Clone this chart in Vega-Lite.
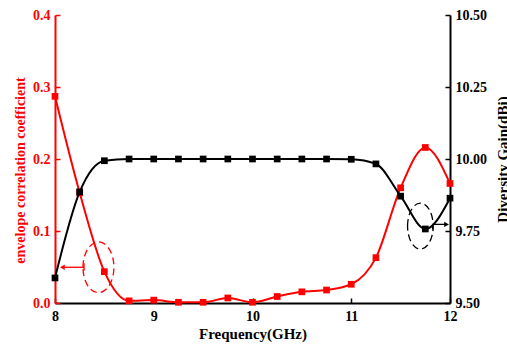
{
  "$schema": "https://vega.github.io/schema/vega-lite/v6.json",
  "width": 395,
  "height": 288,
  "autosize": {"type": "none"},
  "padding": {"left": 55, "top": 15, "right": 57, "bottom": 45},
  "background": "white",
  "config": {
    "view": {"stroke": null},
    "font": "Liberation Serif",
    "axis": {"grid": false, "labelFont": "Liberation Serif", "titleFont": "Liberation Serif", "labelFontWeight": "bold", "titleFontWeight": "bold"}
  },
  "datasets": {
    "ecc": [
      {"x": 8, "y": 0.287}, {"x": 8.25, "y": 0.153}, {"x": 8.5, "y": 0.0435}, {"x": 8.75, "y": 0.003},
      {"x": 9, "y": 0.004}, {"x": 9.25, "y": 0.001}, {"x": 9.5, "y": 0.001}, {"x": 9.75, "y": 0.007},
      {"x": 10, "y": 0.001}, {"x": 10.25, "y": 0.009}, {"x": 10.5, "y": 0.0155}, {"x": 10.75, "y": 0.018},
      {"x": 11, "y": 0.026}, {"x": 11.25, "y": 0.063}, {"x": 11.5, "y": 0.16}, {"x": 11.75, "y": 0.216},
      {"x": 12, "y": 0.166}
    ],
    "gain": [
      {"x": 8, "y": 9.587}, {"x": 8.25, "y": 9.886}, {"x": 8.5, "y": 9.994}, {"x": 8.75, "y": 10.0},
      {"x": 9, "y": 10.0}, {"x": 9.25, "y": 10.0}, {"x": 9.5, "y": 10.0}, {"x": 9.75, "y": 10.0},
      {"x": 10, "y": 10.0}, {"x": 10.25, "y": 10.0}, {"x": 10.5, "y": 10.0}, {"x": 10.75, "y": 10.0},
      {"x": 11, "y": 9.999}, {"x": 11.25, "y": 9.983}, {"x": 11.5, "y": 9.871}, {"x": 11.75, "y": 9.757},
      {"x": 12, "y": 9.864}
    ],
    "eccEllipse": [{"x": 8.44, "y": 0.0496}],
    "eccArrow": [{"x": 8.294, "x2": 8.085, "y": 0.0496, "ya": 0.0551, "yb": 0.0449}],
    "eccHead": [{"x": 8.075, "y": 0.0496}],
    "gainEllipse": [{"x": 11.7, "y": 9.767}],
    "gainArrow": [{"x": 11.825, "x2": 11.955, "y": 9.773, "ya": 9.773, "yb": 9.755}],
    "gainHead": [{"x": 11.965, "y": 9.773}]
  },
  "layer": [
    {
      "encoding": {
        "x": {
          "field": "x", "type": "quantitative",
          "scale": {"domain": [8, 12], "nice": false, "zero": false},
          "axis": {
            "values": [8, 9, 10, 11, 12], "format": "d", "labelFlush": false,
            "tickSize": -5, "tickColor": "black", "tickWidth": 1.5,
            "domainColor": "black", "domainWidth": 2,
            "labelFontSize": 14, "labelColor": "black", "labelPadding": 11,
            "title": "Frequency(GHz)", "titleFontSize": 15, "titleColor": "black", "titlePadding": 3
          }
        },
        "y": {
          "field": "y", "type": "quantitative",
          "scale": {"domain": [0, 0.4], "nice": false, "zero": false},
          "axis": {
            "values": [0, 0.1, 0.2, 0.3, 0.4], "format": ".1f",
            "tickSize": -5, "tickColor": "red", "tickWidth": 1.5,
            "domainColor": "red", "domainWidth": 2,
            "labelFontSize": 14, "labelColor": "red", "labelPadding": 10,
            "title": "envelope correlation coefficient", "titleFontSize": 14, "titleColor": "red", "titlePadding": 5, "titleY": 155
          }
        }
      },
      "layer": [
        {
          "data": {"name": "ecc"},
          "mark": {"type": "line", "color": "red", "strokeWidth": 2, "interpolate": "monotone",
                   "point": {"shape": "square", "filled": true, "size": 45, "color": "red"}}
        },
        {
          "data": {"name": "eccEllipse"},
          "mark": {"type": "point", "shape": "M -0.61 0 A 0.61 1 0 1 1 0.61 0 A 0.61 1 0 1 1 -0.61 0 Z",
                   "size": 2570, "filled": false, "fill": null, "stroke": "red", "strokeWidth": 1.3, "strokeDash": [7, 4], "opacity": 1}
        },
        {
          "data": {"name": "eccArrow"},
          "mark": {"type": "rule", "color": "red", "strokeWidth": 1.3},
          "encoding": {"x2": {"field": "x2"}}
        },
        {
          "data": {"name": "eccArrow"},
          "mark": {"type": "rule", "color": "red", "strokeWidth": 1.3},
          "encoding": {"y": {"field": "ya", "type": "quantitative"}, "y2": {"field": "yb"}}
        },
        {
          "data": {"name": "eccHead"},
          "mark": {"type": "point", "shape": "triangle-left", "filled": true, "color": "red", "size": 30, "opacity": 1}
        }
      ]
    },
    {
      "encoding": {
        "x": {"field": "x", "type": "quantitative", "scale": {"domain": [8, 12], "nice": false, "zero": false}},
        "y": {
          "field": "y", "type": "quantitative",
          "scale": {"domain": [9.5, 10.5], "nice": false, "zero": false},
          "axis": {
            "orient": "right",
            "values": [9.5, 9.75, 10, 10.25, 10.5], "format": ".2f",
            "tickSize": -5, "tickColor": "black", "tickWidth": 1.5,
            "domainColor": "black", "domainWidth": 2,
            "labelFontSize": 14, "labelColor": "black", "labelPadding": 10,
            "title": "Diversity Gain(dBi)", "titleFontSize": 15, "titleColor": "black", "titleAngle": 270, "titlePadding": 24
          }
        }
      },
      "layer": [
        {
          "data": {"name": "gain"},
          "mark": {"type": "line", "color": "black", "strokeWidth": 2, "interpolate": "monotone",
                   "point": {"shape": "square", "filled": true, "size": 45, "color": "black"}}
        },
        {
          "data": {"name": "gainEllipse"},
          "mark": {"type": "point", "shape": "M -0.557 0 A 0.557 1 0 1 1 0.557 0 A 0.557 1 0 1 1 -0.557 0 Z",
                   "size": 2116, "filled": false, "fill": null, "stroke": "black", "strokeWidth": 1.3, "strokeDash": [7, 4], "opacity": 1}
        },
        {
          "data": {"name": "gainArrow"},
          "mark": {"type": "rule", "color": "black", "strokeWidth": 1.3},
          "encoding": {"x2": {"field": "x2"}}
        },
        {
          "data": {"name": "gainArrow"},
          "mark": {"type": "rule", "color": "black", "strokeWidth": 1.3},
          "encoding": {"y": {"field": "ya", "type": "quantitative"}, "y2": {"field": "yb"}}
        },
        {
          "data": {"name": "gainHead"},
          "mark": {"type": "point", "shape": "triangle-right", "filled": true, "color": "black", "size": 30, "opacity": 1}
        }
      ]
    }
  ],
  "resolve": {"scale": {"y": "independent"}, "axis": {"y": "independent"}}
}
